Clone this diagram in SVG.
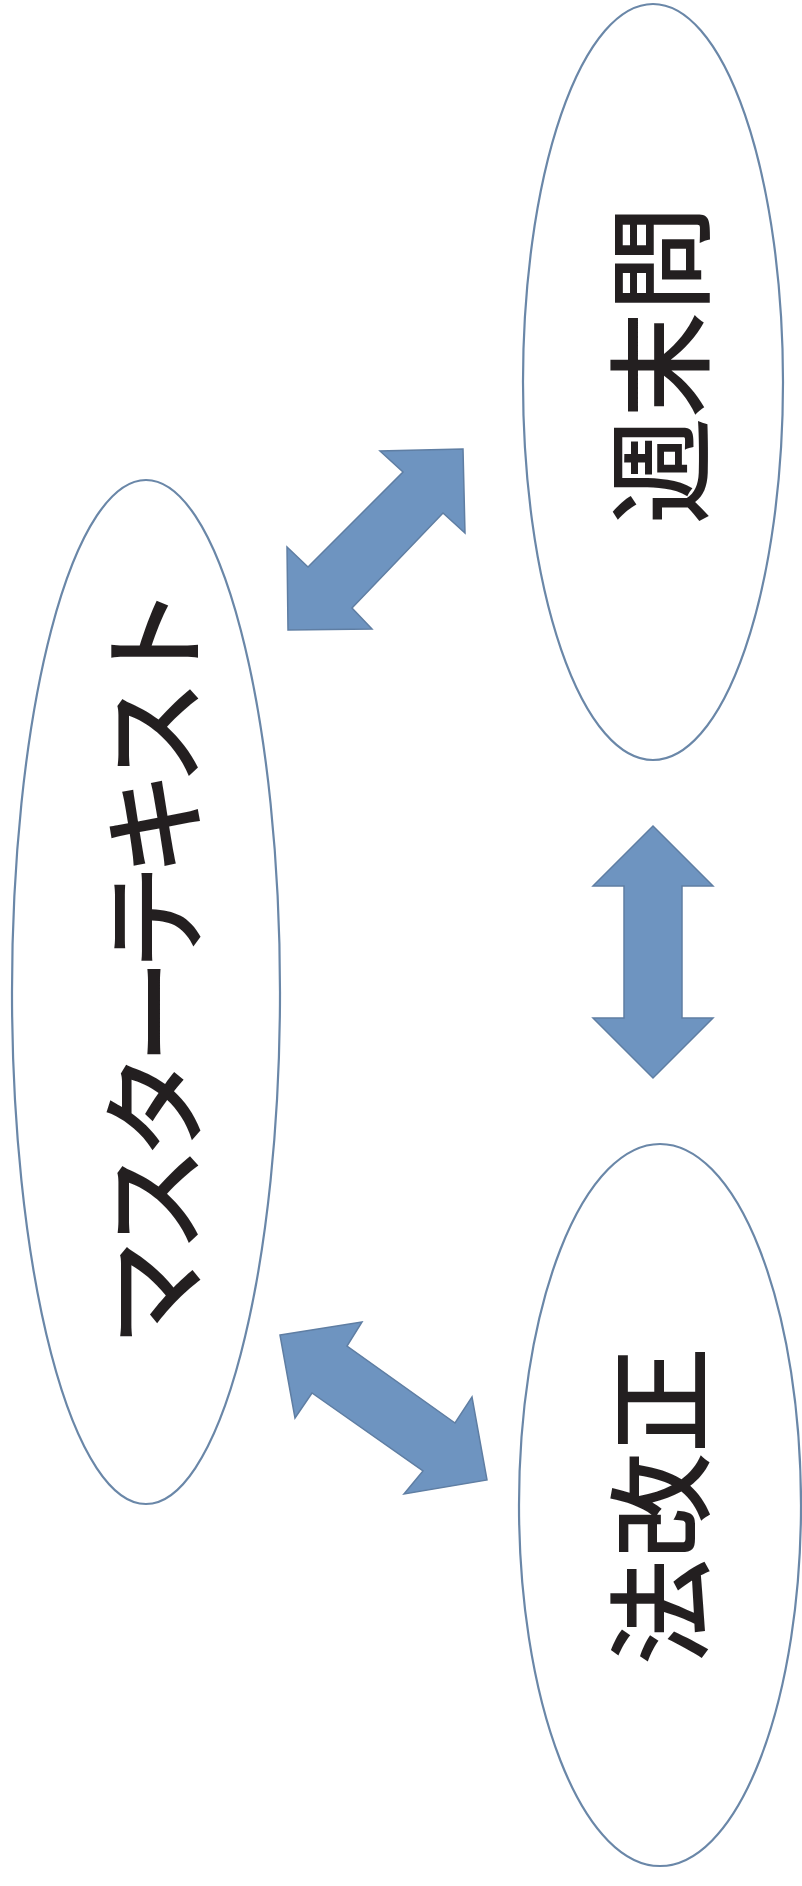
<svg xmlns="http://www.w3.org/2000/svg" width="802" height="1886" viewBox="0 0 802 1886">
<style>
.node ellipse{fill:#ffffff;stroke:#6a87a8;stroke-width:2.2}
.label{font-family:"Noto Sans CJK JP","Noto Sans CJK SC",sans-serif;font-size:106px;font-weight:500;fill:#231f20;text-anchor:middle;dominant-baseline:central}
.arrow{fill:#6e94c0;stroke:#5f7ea3;stroke-width:1.5;stroke-linejoin:miter}
</style>
<rect width="802" height="1886" fill="#ffffff"/>
<g id="node-weekend" class="node">
<ellipse cx="653" cy="382" rx="130" ry="378"/>
<text class="label" transform="translate(654,365) rotate(-90)">週末問</text>
</g>
<g id="node-master" class="node">
<ellipse cx="146" cy="992" rx="134" ry="512"/>
<text class="label" style="letter-spacing:-12px" transform="translate(148,972) rotate(-90)">マスターテキスト</text>
</g>
<g id="node-law" class="node">
<ellipse cx="660" cy="1505" rx="141" ry="361"/>
<text class="label" transform="translate(654,1506) rotate(-90)">法改正</text>
</g>
<g id="connectors">
<polygon class="arrow" points="463,449 380,451 403,472 308,567 287,547 288,630 372,629 352,608 443,513 465,533"/>
<polygon class="arrow" points="653,826 713,886 682,886 682,1018 713,1018 653,1078 593,1018 624,1018 624,886 593,886"/>
<polygon class="arrow" points="280,1335 362,1322 347,1346 455,1423 472,1397 487,1480 404,1494 423,1471 312,1393 295,1418"/>
</g>
</svg>
